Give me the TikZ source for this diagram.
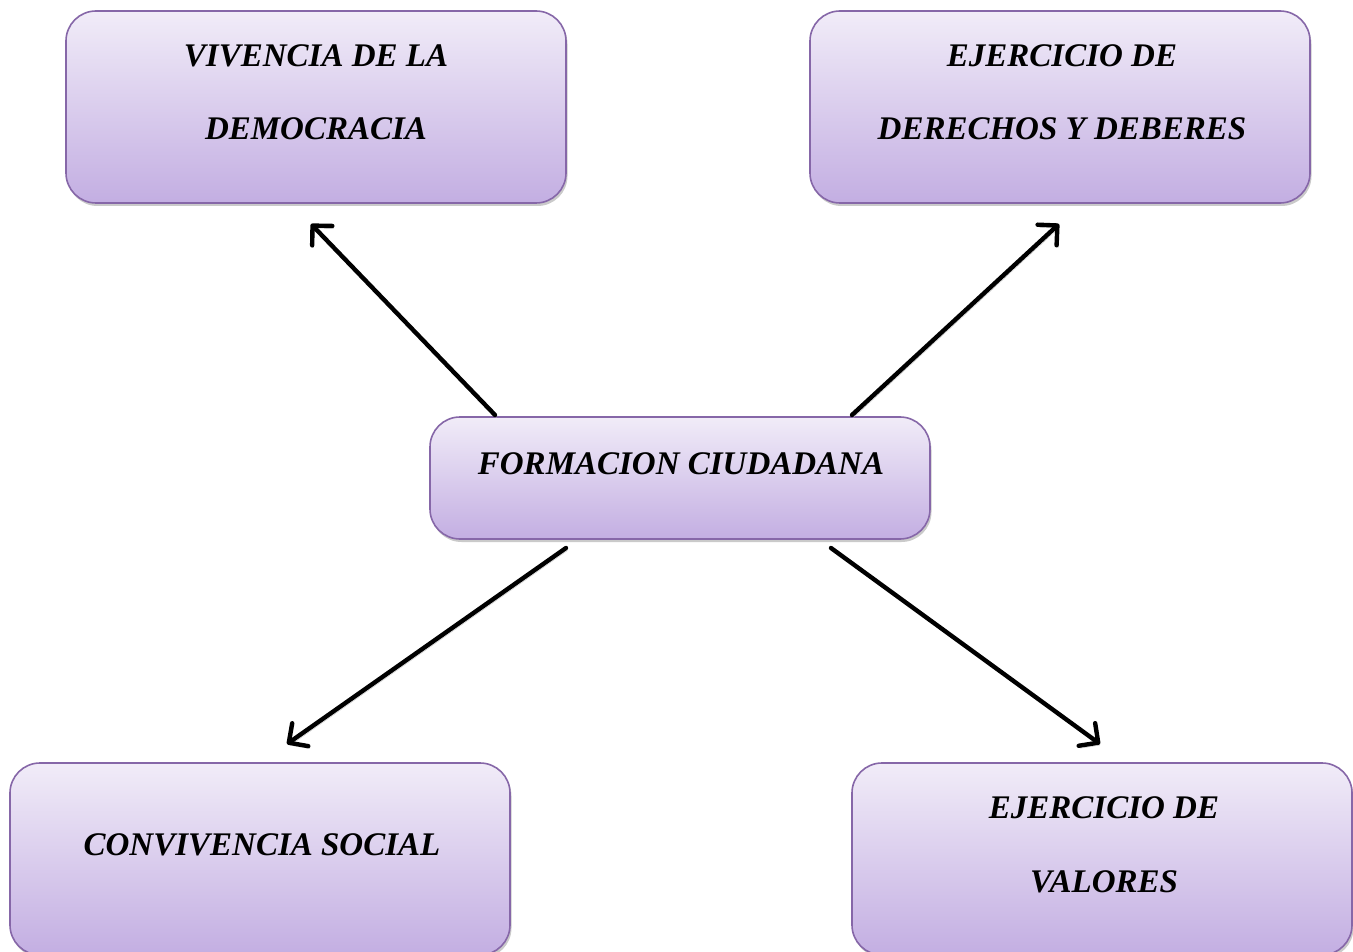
\documentclass[tikz,border=0pt]{standalone}
\usepackage{fontspec}
\setmainfont{Liberation Serif}
\usetikzlibrary{arrows.meta,shadows}
\definecolor{boxtop}{HTML}{F1ECF8}
\definecolor{boxbot}{HTML}{C3AEE2}
\definecolor{boxedge}{HTML}{8667A8}
\begin{document}
\begin{tikzpicture}[x=1pt,y=-1pt,
  box/.style={draw=boxedge,line width=1.6pt,rounded corners=30pt,top color=boxtop,bottom color=boxbot,
    minimum width=500pt,inner sep=0pt,
    drop shadow={shadow xshift=1.5pt,shadow yshift=-3pt,opacity=0.35,fill=black!60}},
  lbl/.style={anchor=base,inner sep=0pt,font=\fontsize{33}{36}\selectfont\bfseries\itshape},
  conn/.style={line width=4.4pt,line cap=round,
    -{Straight Barb[length=14pt,width=28pt,line width=4.4pt,round]},
    preaction={draw=black!22,transform canvas={shift={(1.5pt,-2.5pt)}}}}]
\useasboundingbox (0,0) rectangle (1353,952);
\clip (0,0) rectangle (1353,952);
\node[box,minimum height=192pt] (b1) at (316,107) {};
\node[box,minimum height=192pt] (b2) at (1060,107) {};
\node[box,minimum height=122pt] (b0) at (680,478) {};
\node[box,minimum height=192pt] (b3) at (260,859) {};
\node[box,minimum height=192pt] (b4) at (1102,859) {};
\node[lbl] (t1a) at (316,67) {VIVENCIA DE LA};
\node[lbl] (t1b) at (316,140) {DEMOCRACIA};
\node[lbl] (t2a) at (1062,67) {EJERCICIO DE};
\node[lbl] (t2b) at (1062,140) {DERECHOS Y DEBERES};
\node[lbl] (t0) at (681,474) {FORMACION CIUDADANA};
\node[lbl] (t3) at (262,855) {CONVIVENCIA SOCIAL};
\node[lbl] (t4a) at (1104,818) {EJERCICIO DE};
\node[lbl] (t4b) at (1104,892) {VALORES};
\coordinate (s1) at (495,415);
\coordinate (e1) at (311,224);
\coordinate (s2) at (852,415);
\coordinate (e2) at (1059,224);
\coordinate (s3) at (566,548);
\coordinate (e3) at (287,744);
\coordinate (s4) at (831,548);
\coordinate (e4) at (1100,744);
\draw[conn] (s1) -- (e1);
\draw[conn] (s2) -- (e2);
\draw[conn] (s3) -- (e3);
\draw[conn] (s4) -- (e4);
\end{tikzpicture}
\end{document}
